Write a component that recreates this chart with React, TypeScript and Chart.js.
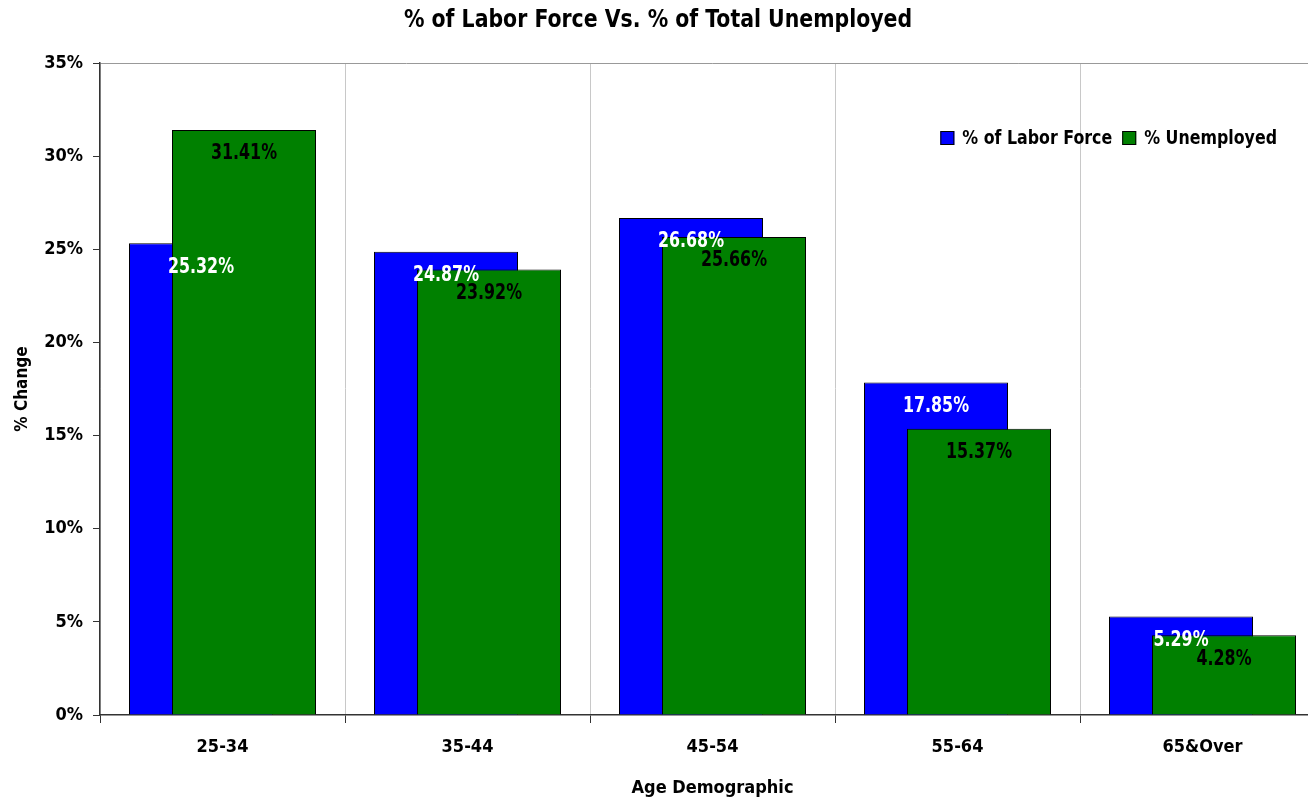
import { useEffect, useRef } from "react";
import { Chart, registerables, type ChartConfiguration, type Plugin } from "chart.js";

Chart.register(...registerables);

const ageGroups = ["25-34", "35-44", "45-54", "55-64", "65&Over"];
const laborForce = [25.32, 24.87, 26.68, 17.85, 5.29];
const unemployed = [31.41, 23.92, 25.66, 15.37, 4.28];
const seriesNames = ["% of Labor Force", "% Unemployed"];
const seriesColors = ["#0000ff", "#008000"];
const labelColors = ["#ffffff", "#000000"];

const FONT = '"Liberation Sans Narrow", "DejaVu Sans Condensed", "Arial Narrow", sans-serif';

// draws text squeezed horizontally (the original uses a condensed face)
const squeezedText = (
    ctx: CanvasRenderingContext2D,
    text: string,
    x: number,
    y: number,
    sx: number,
) => {
    ctx.save();
    ctx.translate(x, y);
    ctx.scale(sx, 1);
    ctx.fillText(text, 0, 0);
    ctx.restore();
};

const App = () => {
    const chartRef = useRef<HTMLCanvasElement>(null);
    const chartInstanceRef = useRef<Chart | null>(null);

    useEffect(() => {
        document.body.style.margin = "0";
        if (!chartRef.current) return;

        if (chartInstanceRef.current) {
            chartInstanceRef.current.destroy();
        }

        // blue keeps the left slot, but green has to be painted over it
        const paintOrder: Plugin<"bar"> = {
            id: "paintOrder",
            beforeDatasetsDraw: (chart) => {
                chart.getDatasetMeta(0).controller.draw();
                chart.getDatasetMeta(1).controller.draw();
                return false;
            },
        };

        // value labels, title and legend
        const overlay: Plugin<"bar"> = {
            id: "overlay",
            afterDraw: (chart) => {
                const { ctx, chartArea } = chart;
                ctx.save();
                ctx.textBaseline = "middle";

                ctx.font = `bold 21px ${FONT}`;
                ctx.textAlign = "center";
                chart.data.datasets.forEach((ds, di) => {
                    const meta = chart.getDatasetMeta(di);
                    ctx.fillStyle = labelColors[di];
                    meta.data.forEach((bar, i) => {
                        const v = ds.data[i] as number;
                        squeezedText(ctx, v.toFixed(2) + "%", bar.x, bar.y + 24, 0.84);
                    });
                });

                ctx.fillStyle = "#000";
                ctx.font = `bold 25px ${FONT}`;
                squeezedText(ctx, "% of Labor Force Vs. % of Total Unemployed", 658, 20, 0.91);

                const sx = 0.88;
                ctx.font = `bold 20px ${FONT}`;
                ctx.textAlign = "left";
                const box = 14;
                const gap = 8;
                const spacing = 10;
                const widths = seriesNames.map((n) => box + gap + ctx.measureText(n).width * sx);
                const total = widths.reduce((a, b) => a + b, 0) + spacing;
                let x = 1277 - total;
                const y = chartArea.top + 75;
                seriesNames.forEach((name, i) => {
                    ctx.fillStyle = seriesColors[i];
                    ctx.fillRect(x, y - box / 2, box, box);
                    ctx.strokeStyle = "#000";
                    ctx.lineWidth = 1;
                    ctx.strokeRect(x + 0.5, y - box / 2 + 0.5, box - 1, box - 1);
                    ctx.fillStyle = "#000";
                    squeezedText(ctx, name, x + box + gap, y + 1, sx);
                    x += widths[i] + spacing;
                });
                ctx.restore();
            },
        };

        const config: ChartConfiguration<"bar"> = {
            type: "bar",
            data: {
                labels: ageGroups,
                datasets: [
                    {
                        label: seriesNames[0],
                        data: laborForce,
                        backgroundColor: seriesColors[0],
                        borderColor: "#000",
                        borderWidth: 1,
                    },
                    {
                        label: seriesNames[1],
                        data: unemployed,
                        backgroundColor: seriesColors[1],
                        borderColor: "#000",
                        borderWidth: 1,
                    },
                ],
            },
            options: {
                responsive: true,
                maintainAspectRatio: false,
                animation: false,
                // overlapping bars: narrow slots, bars wider than their slot
                categoryPercentage: 0.351,
                barPercentage: 3.35,
                layout: {
                    padding: { top: 63, right: 15, left: 0, bottom: 0 },
                },
                plugins: {
                    legend: { display: false },
                    title: { display: false },
                    tooltip: { enabled: false },
                },
                scales: {
                    x: {
                        grid: {
                            offset: true,
                            color: "#c8c8c8",
                            tickColor: "#333",
                            tickLength: 8,
                        },
                        border: { color: "#333", width: 1.5 },
                        ticks: {
                            color: "#000",
                            padding: 14,
                            font: { family: FONT, size: 18, weight: "bold" },
                        },
                        title: {
                            display: true,
                            text: "Age Demographic",
                            color: "#000",
                            font: { family: FONT, size: 18, weight: "bold" },
                            padding: { top: 0, bottom: 3 },
                        },
                        afterFit: (scale) => {
                            scale.height = 87;
                        },
                    },
                    y: {
                        min: 0,
                        max: 35,
                        ticks: {
                            stepSize: 5,
                            color: "#000",
                            padding: 10,
                            font: { family: FONT, size: 18, weight: "bold" },
                            callback: (v) => v + "%",
                        },
                        grid: {
                            color: (c) => (c.tick && c.tick.value === 35 ? "#999" : "rgba(0,0,0,0)"),
                            tickColor: "#333",
                            tickLength: 7,
                        },
                        border: { color: "#333", width: 1.5 },
                        title: {
                            display: true,
                            text: "% Change",
                            color: "#000",
                            font: { family: FONT, size: 17, weight: "bold" },
                            padding: { top: 12, bottom: 0 },
                        },
                        afterFit: (scale) => {
                            scale.width = 100;
                        },
                    },
                },
            },
            plugins: [paintOrder, overlay],
        };

        chartInstanceRef.current = new Chart(chartRef.current, config);

        return () => {
            chartInstanceRef.current?.destroy();
        };
    }, []);

    return (
        <div style={{ width: "1308px", height: "802px", overflow: "hidden", position: "relative" }}>
            <div style={{ position: "absolute", left: 0, top: 0, width: "1340px", height: "802px" }}>
                <canvas ref={chartRef} />
            </div>
        </div>
    );
};

export default App;
